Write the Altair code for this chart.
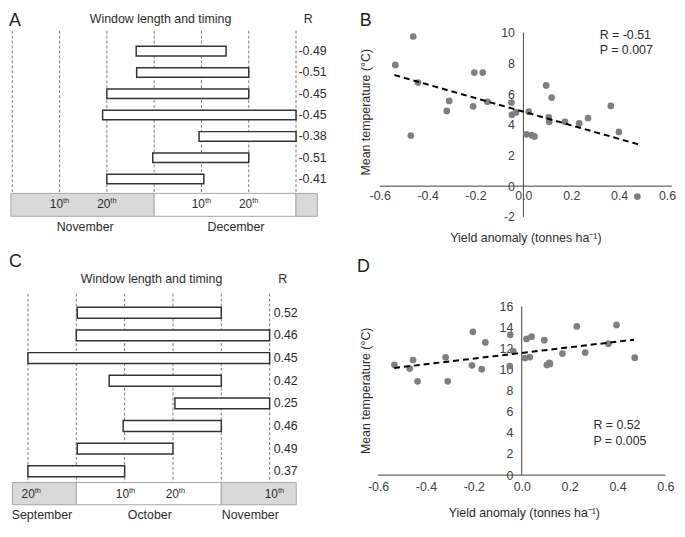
import altair as alt
import pandas as pd

FONT = "Liberation Sans"

# ---------------- data ----------------
# Panel A: windows on a dekad-style day axis (0 = 1 Nov, 30 = 1 Dec, 60 = 31 Dec)
a_start = [26.2, 26.3, 20.0, 19.1, 39.5, 29.7, 20.0]
a_end = [45.2, 50.0, 50.0, 60.0, 60.0, 50.0, 40.5]
a_r = ["-0.49", "-0.51", "-0.45", "-0.45", "-0.38", "-0.51", "-0.41"]
a_grid = [0, 10, 20, 30, 40, 50, 60]
a_band_start = [-0.3, 30, 60]
a_band_end = [30, 60, 64.5]
a_band_fill = ["#d9d9d9", "#ffffff", "#d9d9d9"]
a_day_pos = [10, 20, 40, 50]
a_day_text = ["10", "20", "10", "20"]
a_month_pos = [15.4, 47.3]
a_month_text = ["November", "December"]

# Panel C: (0 = 20 Sep, 10 = 1 Oct, 40 = 1 Nov, 50 = 10 Nov)
c_start = [10.2, 10.0, 0.0, 16.8, 30.4, 19.7, 10.2, 0.0]
c_end = [40.0, 50.0, 50.0, 40.0, 50.0, 40.0, 30.0, 20.0]
c_r = ["0.52", "0.46", "0.45", "0.42", "0.25", "0.46", "0.49", "0.37"]
c_grid = [0, 10, 20, 30, 40, 50]
c_band_start = [-3.2, 10, 40]
c_band_end = [10, 40, 55.5]
c_band_fill = ["#d9d9d9", "#ffffff", "#d9d9d9"]
c_day_pos = [0.7, 20.2, 30.5, 51.0]
c_day_text = ["20", "10", "20", "10"]
c_month_pos = [2.9, 25.2, 46.0]
c_month_text = ["September", "October", "November"]

# Panels B & D: yield anomaly vs mean temperature
yield_b = [-0.535, -0.47, -0.46, -0.44, -0.32, -0.31, -0.21, -0.205, -0.17, -0.15,
           -0.05, -0.048, -0.031, 0.013, 0.022, 0.035, 0.046, 0.095, 0.106, 0.108,
           0.118, 0.174, 0.233, 0.27, 0.365, 0.399, 0.476]
temp_b = [7.9, 3.3, 9.75, 6.75, 4.9, 5.55, 5.2, 7.4, 7.4, 5.5,
          5.45, 4.65, 4.8, 3.38, 4.85, 3.32, 3.24, 6.56, 4.48, 4.19,
          5.77, 4.19, 4.09, 4.44, 5.23, 3.53, -0.68]
yield_d = [-0.532, -0.468, -0.454, -0.435, -0.318, -0.309, -0.208, -0.204, -0.167, -0.152,
           -0.05, -0.048, -0.035, 0.014, 0.02, 0.034, 0.041, 0.094, 0.105, 0.115,
           0.118, 0.17, 0.23, 0.265, 0.362, 0.396, 0.472]
temp_d = [10.47, 10.11, 10.92, 8.9, 11.17, 8.9, 10.42, 13.59, 10.05, 12.59,
          10.35, 13.31, 11.74, 11.11, 12.92, 11.2, 13.13, 12.8, 10.45, 10.65,
          10.55, 11.53, 14.1, 11.62, 12.47, 14.25, 11.14]
x_ticks = [-0.6, -0.4, -0.2, 0.0, 0.2, 0.4, 0.6]
b_y_ticks = [-2, 0, 2, 4, 6, 8, 10]
d_y_ticks = [0, 2, 4, 6, 8, 10, 12, 14, 16]

# ---------------- geometry ----------------
sx, sy = 0.985, 0.965
FS = 12.5        # general text size
TXT = "#2b2b2b"


def VX(r):
    return (r - 3) * sx


def VY(r):
    return (r - 3) * sy


WL = round(VX(345))
WR = round(VX(685)) - WL
HT = round(VY(255))
HB = round(VY(536)) - HT


def dom_down(a, b, o, size, s):
    return [(o / s + 3 - a) / b, ((size + o) / s + 3 - a) / b]


def dom_up(a, b, o, size, s):
    return [(a - ((size + o) / s + 3)) / b, (a - (o / s + 3)) / b]


def txt(s, x, y, size=FS, align="center", angle=0, color=TXT):
    kw = dict(fontSize=size, align=align, baseline="middle", color=color, font=FONT)
    if angle:
        kw["angle"] = angle
    return alt.Chart(pd.DataFrame({"t": [s]})).mark_text(**kw).encode(
        x=alt.value(x), y=alt.value(y), text="t:N")


def window_panel(starts, ends, rs, grid, bs, be, bf, dpos, dtext, mpos, mtext,
                 xa, xb, ya, yb, ox, oy, W, H, half, r_x, grid_top, band_top, band_bot,
                 day_y, month_y, title_x, title_y, rh_x, letter, letter_y):
    px = lambda r: VX(r) - ox
    py = lambda r: VY(r) - oy
    xs = alt.Scale(domain=dom_down(xa, xb, ox, W, sx), nice=False, zero=False)
    ys = alt.Scale(domain=dom_down(ya, yb, oy, H, sy), nice=False, zero=False, reverse=True)
    X = lambda f: alt.X(f, scale=xs, axis=None)
    Y = lambda f: alt.Y(f, scale=ys, axis=None)

    df = pd.DataFrame({"start": starts, "end": ends, "r": rs, "row": list(range(len(starts)))})
    grid_l = alt.Chart(pd.DataFrame({"g": grid})).mark_rule(
        strokeDash=[3, 2], color="#595959", strokeWidth=0.8).encode(
        x=X("g:Q"), y=alt.value(py(grid_top)), y2=alt.value(py(band_top)))
    band = alt.Chart(pd.DataFrame({"s": bs, "e": be, "f": bf})).mark_rect(
        stroke="#a6a6a6", strokeWidth=1).encode(
        x=X("s:Q"), x2="e:Q", y=alt.value(py(band_top)), y2=alt.value(py(band_bot)),
        fill=alt.Fill("f:N", scale=None))
    ddf = pd.DataFrame({"u": dpos, "t": dtext})
    dnum = alt.Chart(ddf).mark_text(align="right", dx=3.5, fontSize=12, baseline="middle",
                                    color=TXT).encode(
        x=X("u:Q"), y=alt.value(py(day_y)), text="t:N")
    dth = alt.Chart(ddf).mark_text(text="th", align="left", dx=3.5, dy=-3, fontSize=7.5,
                                   baseline="middle", color=TXT).encode(
        x=X("u:Q"), y=alt.value(py(day_y)))
    months = alt.Chart(pd.DataFrame({"u": mpos, "t": mtext})).mark_text(
        fontSize=FS, baseline="middle", color=TXT).encode(
        x=X("u:Q"), y=alt.value(py(month_y)), text="t:N")
    bars = alt.Chart(df).transform_calculate(
        y0=f"datum.row - {half}", y1=f"datum.row + {half}").mark_rect(
        fill="white", stroke="#333333", strokeWidth=1.5).encode(
        x=X("start:Q"), x2="end:Q", y=Y("y0:Q"), y2="y1:Q")
    rtxt = alt.Chart(df).mark_text(align="left", baseline="middle", fontSize=12.5,
                                   color=TXT).encode(
        x=alt.value(px(r_x)), y=Y("row:Q"), text="r:N")
    layers = [grid_l, band, dnum, dth, months, bars, rtxt,
              txt("Window length and timing", px(title_x), max(py(title_y), 7)),
              txt("R", px(rh_x), max(py(title_y), 7)),
              txt(letter, 0, max(py(letter_y), 9), size=18, align="left", color="#222222")]
    return alt.layer(*layers).properties(width=W, height=H)


def scatter_panel(xv, yv, xa, ya, yb, ox, oy, W, H, yticks, xpad, ext, xline, yline,
                  r_text, p_text, rp_x, r_y, p_y, xt, yt, letter, letter_x, letter_y):
    px = lambda r: VX(r) - ox
    py = lambda r: VY(r) - oy
    xb = 245.6
    xs = alt.Scale(domain=dom_down(xa, xb, ox, W, sx), nice=False, zero=False)
    ys = alt.Scale(domain=dom_up(ya, yb, oy, H, sy), nice=False, zero=False)
    vx0 = px(xa)
    vy0 = py(ya)
    fix = "replace(datum.label, '\u2212', '-')"
    xaxis = alt.Axis(values=x_ticks, format=".1f", labelExpr=fix, domain=False, ticks=False,
                     tickSize=0, grid=False, labelPadding=xpad, offset=-(H - vy0), title=None,
                     labelFontSize=12.5, labelColor="#404040", labelFont=FONT,
                     labelFlush=False, labelOverlap=False)
    yaxis = alt.Axis(values=yticks, format="d", labelExpr=fix, domain=False, ticks=False,
                     tickSize=0, grid=False, labelPadding=9, offset=-vx0, title=None,
                     labelFontSize=12.5, labelColor="#404040", labelFont=FONT,
                     labelOverlap=False)
    X = lambda f: alt.X(f, scale=xs, axis=xaxis)
    Y = lambda f: alt.Y(f, scale=ys, axis=yaxis)
    df = pd.DataFrame({"x": xv, "y": yv})
    vline = alt.Chart(pd.DataFrame({"x": [0], "y": [yline[0]], "y2": [yline[1]]})).mark_rule(
        color="#404040", strokeWidth=1).encode(x=X("x:Q"), y=Y("y:Q"), y2="y2:Q")
    hline = alt.Chart(pd.DataFrame({"x": [xline[0]], "x2": [xline[1]], "y": [0]})).mark_rule(
        color="#404040", strokeWidth=1).encode(x=X("x:Q"), x2="x2:Q", y=Y("y:Q"))
    pts = alt.Chart(df).mark_circle(size=46, color="#7f7f7f", opacity=1).encode(
        x=X("x:Q"), y=Y("y:Q"))
    trend = alt.Chart(df).transform_regression("x", "y", extent=ext).mark_line(
        color="black", strokeDash=[6, 4], strokeWidth=2).encode(x=X("x:Q"), y=Y("y:Q"))
    layers = [vline, hline, pts, trend,
              txt(r_text, px(rp_x), py(r_y), align="left"),
              txt(p_text, px(rp_x), py(p_y), align="left"),
              txt("Yield anomaly (tonnes ha\u207b\u00b9)", px(xt[0]), py(xt[1])),
              txt("Mean temperature (\u00b0C)", px(yt[0]), py(yt[1]), angle=270),
              txt(letter, px(letter_x), max(py(letter_y), 9), size=18, align="left",
                  color="#222222")]
    return alt.layer(*layers).properties(width=W, height=H)


panel_a = window_panel(a_start, a_end, a_r, a_grid, a_band_start, a_band_end, a_band_fill,
                       a_day_pos, a_day_text, a_month_pos, a_month_text,
                       6.4, 4.851, 44.3, 22.33, 0, 0, WL, HT, 0.224, 300,
                       23, 193.3, 217.3, 204.5, 229, 158.5, 8.3, 310, "A", 10.8)
panel_c = window_panel(c_start, c_end, c_r, c_grid, c_band_start, c_band_end, c_band_fill,
                       c_day_pos, c_day_text, c_month_pos, c_month_text,
                       22.47, 4.958, 318.3, 23.71, 0, HT, WL, HB, 0.24, 274.5,
                       298.3, 496, 519.3, 508.5, 530, 149.2, 282.7, 283.7, "C", 265)
panel_b = scatter_panel(yield_b, temp_b, 530.7, 185.7, 16.07, WL, 0, WR, HT, b_y_ticks, 4,
                        [-0.539, 0.479], [-0.6, 0.62], [-2, 10],
                        "R = -0.51", "P = 0.007", 609, 27.5, 42.7,
                        (533.3, 240), (369.3, 108.3), "B", 362.7, 9.7)
panel_d = scatter_panel(yield_d, temp_d, 529.0, 488.3, 11.04, WL, HT, WR, HB, d_y_ticks, 6,
                        [-0.533, 0.469], [-0.6, 0.6], [0, 16],
                        "R = 0.52", "P = 0.005", 602.5, 435.8, 452.3,
                        (531.7, 528.3), (369.3, 400), "D", 360, 270)

chart = alt.concat(panel_a, panel_b, panel_c, panel_d, columns=2, spacing=0,
                   bounds="flush", padding=0).configure(font=FONT).configure_view(
    stroke="transparent")

chart.save("out.html", embed_options={"renderer": "svg", "actions": False})
